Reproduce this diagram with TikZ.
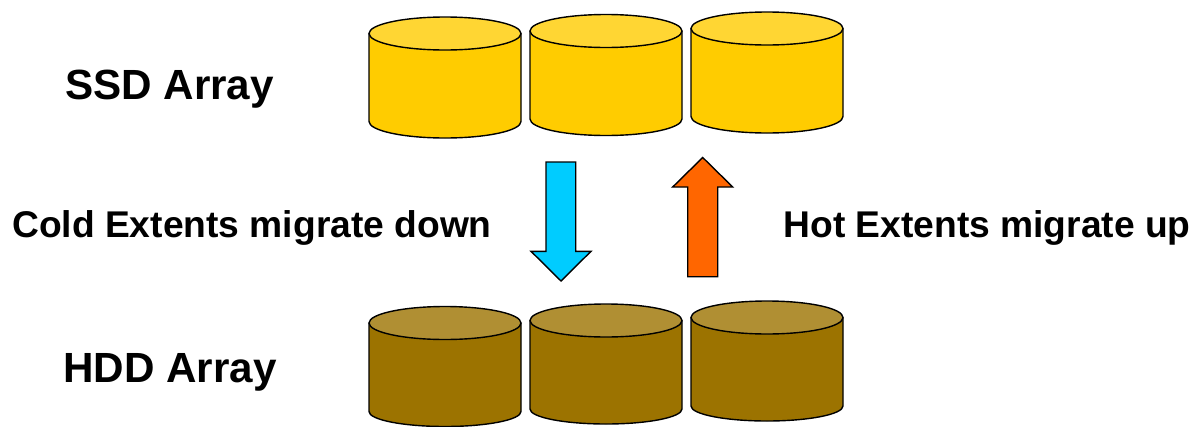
\documentclass[tikz,border=0pt]{standalone}
\usepackage{fontspec}
\setmainfont{Liberation Sans}
\definecolor{ssdside}{HTML}{FFCC00}
\definecolor{ssdtop}{HTML}{FFD633}
\definecolor{hddside}{HTML}{9C7300}
\definecolor{hddtop}{HTML}{B08F33}
\definecolor{coldblue}{HTML}{00CCFF}
\definecolor{hotorange}{HTML}{FF6600}
\tikzset{
    disk/.style={draw=black,line width=1.4pt,line join=round},
    migrate/.style={draw=black,line width=1.4pt,line join=miter},
    arraylabel/.style={anchor=base west,inner sep=0pt,font=\fontsize{42.2}{46}\selectfont\bfseries},
    label/.style={anchor=base west,inner sep=0pt,font=\fontsize{37.2}{41}\selectfont\bfseries}
}
\begin{document}
\begin{tikzpicture}[x=1pt,y=-1pt]
    \useasboundingbox (0,0) rectangle (1192,426);
    % SSD row
    \foreach \cx/\cy in {445/33.5,606/31,767/28.5}{
        \filldraw[disk,fill=ssdside] (\cx-76,\cy) -- (\cx-76,\cy+88)
            arc [start angle=180, end angle=360, x radius=76, y radius=-16.5]
            -- (\cx+76,\cy) -- cycle;
        \filldraw[disk,fill=ssdtop] (\cx,\cy) circle [x radius=76, y radius=16.5];
    }
    % HDD row
    \foreach \cx/\cy in {445/323,606/320.5,767/317.5}{
        \filldraw[disk,fill=hddside] (\cx-76,\cy) -- (\cx-76,\cy+88.5)
            arc [start angle=180, end angle=360, x radius=76, y radius=-15]
            -- (\cx+76,\cy) -- cycle;
        \filldraw[disk,fill=hddtop] (\cx,\cy) circle [x radius=76, y radius=16.5];
    }
    \filldraw[migrate,fill=coldblue] (546,162) -- (575.7,162) -- (575.7,251.3) -- (591,251.3)
        -- (561,281) -- (531,251.3) -- (546,251.3) -- cycle;
    \filldraw[migrate,fill=hotorange] (687.7,276.7) -- (717.7,276.7) -- (717.7,187) -- (732.7,187)
        -- (702.7,157.5) -- (672.7,187) -- (687.7,187) -- cycle;
    \node[arraylabel] (ssdlabel) at (65,99.3) {SSD Array};
    \node[arraylabel] (hddlabel) at (63,382.3) {HDD Array};
    \node[label] (coldlabel) at (12,237.7) {Cold Extents migrate down};
    \node[label] (hotlabel) at (783.3,237.7) {Hot Extents migrate up};
\end{tikzpicture}
\end{document}
